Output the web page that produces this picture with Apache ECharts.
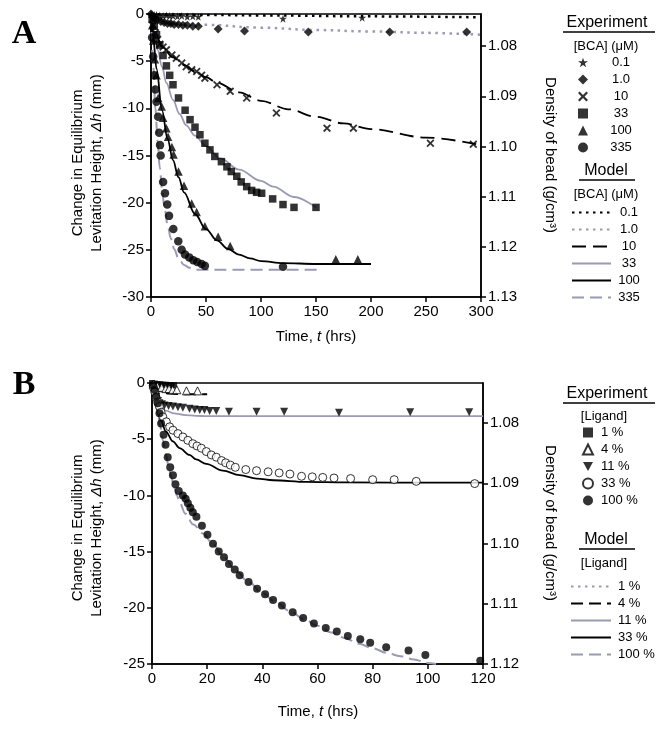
<!DOCTYPE html>
<html>
<head>
<meta charset="utf-8">
<script src="https://cdn.jsdelivr.net/npm/echarts@6/dist/echarts.min.js"></script>
<style>
  html, body { margin: 0; padding: 0; background: #fff; }
  #chart { width: 662px; height: 733px; }
</style>
</head>
<body>
<div id="chart"></div>
<script>
// ---- panel A : [BCA] (uM), time (hrs) vs change in height (mm)
const bcaLabels = ['0.1', '1.0', '10', '33', '100', '335'];
const bca01Exp = [[0,0],[1,-0.05],[3,-0.1],[5,-0.1],[8,-0.15],[11,-0.2],[14,-0.15],[17,-0.2],[20,-0.2],[24,-0.25],[28,-0.2],[33,-0.3],[38,-0.25],[43,-0.3],[120,-0.5],[192,-0.4]];
const bca1Exp = [[0,0],[2,-0.3],[4,-0.5],[6,-0.6],[9,-0.8],[12,-0.9],[15,-1.0],[18,-1.0],[21,-1.1],[25,-1.1],[29,-1.2],[33,-1.2],[38,-1.3],[43,-1.3],[61,-1.6],[85,-1.8],[143,-1.9],[217,-1.9],[287,-1.9]];
const bca10Exp = [[1,-0.6],[2,-1.2],[4,-2.0],[6,-2.7],[8,-3.2],[11,-3.5],[14,-3.8],[19,-4.35],[23,-4.7],[28,-5.2],[32,-5.6],[37,-5.9],[41.5,-6.1],[46,-6.5],[49,-6.8],[60,-7.5],[72,-8.2],[87,-8.9],[114,-10.5],[160,-12.1],[184,-12.1],[254,-13.7],[293,-13.8]];
const bca33Exp = [[1,-0.5],[3,-1.3],[5,-2.2],[8,-3.3],[11,-4.4],[14,-5.5],[17,-6.5],[20,-7.5],[25,-8.9],[31,-10.2],[35.5,-11.2],[40,-12.0],[44.5,-12.8],[49,-13.7],[53.6,-14.4],[58,-15.1],[64,-15.65],[69,-16.2],[73,-16.7],[78,-17.2],[82,-17.8],[87,-18.3],[91.5,-18.7],[96,-18.9],[100.6,-19.0],[110.6,-19.6],[120,-20.2],[130,-20.5],[150,-20.5]];
const bca100Exp = [[1,-1.2],[2,-2.8],[3.5,-4.8],[5,-6.5],[6.5,-8.9],[9.7,-9.8],[11,-11.0],[14,-12.1],[15.5,-13.0],[19,-14.1],[20.5,-14.9],[25,-16.7],[30,-18.2],[37,-20.1],[41.5,-21.0],[49,-22.5],[61,-23.6],[72,-24.6],[168,-26.0],[188,-26.0]];
const bca335Exp = [[1,-2.5],[2,-4.5],[3,-6.5],[4,-8.0],[5,-9.3],[6.5,-10.9],[7.4,-12.6],[8.2,-13.9],[8.8,-15.0],[11,-17.8],[12.7,-19.0],[14.8,-20.2],[16.4,-21.4],[20.3,-22.8],[24.8,-24.1],[27.9,-25.0],[30.9,-25.5],[34.8,-25.8],[38.5,-26.1],[42,-26.3],[46,-26.5],[49,-26.7],[120,-26.8]];

const bca01Fit = [[0,0],[50,-0.1],[100,-0.15],[200,-0.25],[300,-0.35]];
const bca1Fit = [[0,0],[5,-0.5],[10,-0.7],[25,-0.95],[50,-1.15],[100,-1.45],[150,-1.7],[200,-1.85],[250,-2.0],[300,-2.2]];
const bca10Fit = [[0,0],[2,-1.0],[5,-2.3],[10,-3.5],[20,-4.6],[30,-5.4],[40,-6.1],[50,-6.7],[60,-7.3],[80,-8.3],[100,-9.2],[125,-10.1],[150,-10.9],[175,-11.6],[200,-12.2],[250,-13.1],[300,-13.9]];
const bca33Fit = [[0,0],[3,-2.1],[6,-3.8],[10,-5.6],[14,-7.3],[20,-9.1],[26,-10.6],[32,-11.8],[40,-12.9],[50,-14.0],[63,-15.3],[80,-16.5],[100,-17.7],[111,-18.3],[130,-19.4],[150,-20.5]];
const bca100Fit = [[0,0],[2,-2.5],[5,-5.8],[10,-10.2],[15,-13.2],[20,-15.5],[25,-17.3],[30,-18.9],[40,-21.2],[50,-22.8],[60,-24.0],[70,-24.9],[80,-25.5],[90,-25.9],[100,-26.2],[120,-26.4],[150,-26.5],[200,-26.5]];
const bca335Fit = [[0,0],[2,-5.5],[4,-10],[6,-13.5],[8,-16.3],[10,-18.5],[12,-20.3],[15,-22.3],[18,-23.8],[21,-24.9],[25,-25.9],[30,-26.6],[35,-26.9],[40,-27.1],[155,-27.1]];

// ---- panel B : [Ligand] (%)
const ligLabels = ['1 %', '4 %', '11 %', '33 %', '100 %'];
const lig1Exp = [[0,0],[1,-0.05],[2,-0.1],[3,-0.1],[4,-0.15],[5,-0.15],[6,-0.2],[7,-0.2],[8,-0.2]];
const lig4Exp = [[0.5,-0.1],[2,-0.3],[3.5,-0.4],[5,-0.5],[6.2,-0.5],[7.5,-0.6],[9,-0.6],[12.5,-0.7],[16.5,-0.7]];
const lig11Exp = [[0.5,-0.3],[1,-0.8],[1.6,-1.2],[2.2,-1.6],[2.7,-1.8],[3.6,-1.9],[4.5,-2.0],[6,-2.05],[7.6,-2.1],[9.4,-2.15],[11.2,-2.2],[13.6,-2.3],[15.5,-2.35],[17.3,-2.4],[19,-2.4],[20.9,-2.5],[23.3,-2.5],[27.9,-2.56],[37.9,-2.56],[47.9,-2.56],[67.8,-2.65],[93.6,-2.6],[115,-2.6]];
const lig33Exp = [[0.5,-0.4],[1,-0.8],[1.5,-1.3],[2.1,-1.7],[2.7,-2.1],[3.3,-2.6],[3.9,-3.0],[5.2,-3.45],[6.4,-3.9],[7.6,-4.2],[9.4,-4.5],[11.2,-4.8],[13,-5.1],[14.8,-5.4],[16.3,-5.6],[17.9,-5.8],[19.7,-6.1],[21.5,-6.4],[23.3,-6.6],[25.2,-6.9],[26.7,-7.1],[28.4,-7.3],[30.2,-7.5],[34,-7.7],[37.9,-7.8],[42.1,-7.9],[46.1,-8.0],[50,-8.1],[54.2,-8.3],[58.1,-8.35],[61.9,-8.4],[66,-8.45],[72,-8.5],[80,-8.6],[87.8,-8.6],[95.8,-8.75],[117,-8.95]];
const lig100Exp = [[0.3,-0.2],[0.9,-0.6],[1.5,-1.2],[2.1,-1.8],[2.7,-2.7],[3.3,-3.6],[4.2,-4.6],[4.9,-5.5],[5.7,-6.6],[6.6,-7.5],[7.6,-8.2],[8.5,-9.0],[9.7,-9.6],[11.2,-10.0],[12.2,-10.3],[13,-10.7],[13.9,-11.1],[14.8,-11.5],[16.1,-11.9],[18.1,-12.7],[20.1,-13.5],[22.1,-14.3],[24.2,-15.0],[26.1,-15.5],[27.9,-16.1],[30,-16.6],[31.8,-17.1],[35,-17.7],[38.1,-18.3],[41,-18.8],[43.9,-19.3],[47.1,-19.8],[51,-20.4],[54.8,-20.9],[58.7,-21.4],[63,-21.8],[67,-22.1],[71,-22.5],[75.5,-22.8],[79.1,-23.1],[84.9,-23.5],[93,-23.8],[99.1,-24.2],[119,-24.7]];

const lig1Fit = [[0,0],[2,-0.1],[5,-0.15],[10,-0.2]];
const lig4Fit = [[0,0],[1,-0.3],[2,-0.55],[3,-0.75],[4,-0.85],[6,-0.95],[10,-1.0],[20,-1.0]];
const lig11Fit = [[0,0],[1,-1.0],[2,-1.7],[3,-2.1],[5,-2.45],[8,-2.7],[12,-2.85],[16,-2.92],[20,-2.95],[120,-2.95]];
const lig33Fit = [[0,0],[1,-1.3],[2,-2.3],[3.3,-3.4],[5,-4.3],[7.6,-5.2],[10,-5.8],[13.6,-6.4],[16,-6.8],[19.7,-7.2],[25.7,-7.8],[31.8,-8.2],[38,-8.5],[44,-8.65],[56,-8.8],[70,-8.85],[120,-8.87]];
const lig100Fit = [[0,0],[1,-1.3],[2,-2.6],[3,-3.9],[4,-5.1],[5,-6.3],[6,-7.4],[7,-8.4],[8,-9.3],[9,-10.0],[10,-10.6],[12,-11.6],[15,-12.6],[18.5,-13.4],[22,-14.3],[26,-15.5],[30,-16.6],[35,-17.7],[40,-18.7],[45,-19.5],[50,-20.3],[55,-21.0],[60,-21.6],[65,-22.2],[70,-22.7],[75,-23.2],[80,-23.6],[85,-24.0],[90,-24.3],[95,-24.6],[100,-24.9],[103,-25.0]];

// right axis: bead density and where it sits on the height axis
const densA = ['1.08', '1.09', '1.10', '1.11', '1.12', '1.13'];
const densAPos = [-3.4, -8.72, -14.04, -19.36, -24.68, -30];
const densB = ['1.08', '1.09', '1.10', '1.11', '1.12'];
const densBPos = [-3.56, -8.92, -14.28, -19.64, -25];

const FONT = 'Liberation Sans, Arial, sans-serif';
const GRAY = '#9a9ab4';
const STAR = 'path://M5,0L6.2,3.6L10,3.6L6.9,5.8L8.1,9.5L5,7.2L1.9,9.5L3.1,5.8L0,3.6L3.8,3.6Z';
const CROSS = 'path://M0,1.6L1.6,0L5,3.4L8.4,0L10,1.6L6.6,5L10,8.4L8.4,10L5,6.6L1.6,10L0,8.4L3.4,5Z';
const DOWNTRI = 'path://M0,0L10,0L5,9Z';

function sc(name, data, symbol, size, idx, extra) {
  return Object.assign({
    name: name, type: 'scatter', data: data, symbol: symbol, symbolSize: size,
    xAxisIndex: idx, yAxisIndex: idx * 2, z: 5, silent: true,
    itemStyle: { color: '#000' }
  }, extra || {});
}
function ln(name, data, color, type, width, idx) {
  return {
    name: name, type: 'line', data: data, symbol: 'none', showSymbol: false,
    smooth: 0.35, smoothMonotone: 'x', xAxisIndex: idx, yAxisIndex: idx * 2, z: 3, silent: true,
    lineStyle: { color: color, type: type, width: width }, itemStyle: { color: color }
  };
}

const series = [
  sc('eA|0.1', bca01Exp, STAR, 8, 0),
  sc('eA|1.0', bca1Exp, 'diamond', 9, 0),
  sc('eA|10', bca10Exp, CROSS, 8, 0),
  sc('eA|33', bca33Exp, 'rect', 7.5, 0),
  sc('eA|100', bca100Exp, 'triangle', 8.5, 0),
  sc('eA|335', bca335Exp, 'circle', 8.5, 0),
  ln('mA|0.1', bca01Fit, '#000', [2.5, 4.5], 2.5, 0),
  ln('mA|1.0', bca1Fit, GRAY, [2.5, 4.5], 2.5, 0),
  ln('mA|10', bca10Fit, '#000', [14, 7], 1.8, 0),
  ln('mA|33', bca33Fit, GRAY, 'solid', 1.8, 0),
  ln('mA|100', bca100Fit, '#000', 'solid', 1.8, 0),
  ln('mA|335', bca335Fit, GRAY, [12, 6], 2, 0),

  sc('eB|1 %', lig1Exp, 'rect', 6, 1),
  sc('eB|4 %', lig4Exp, 'triangle', 8, 1, { itemStyle: { color: '#fff', borderColor: '#000', borderWidth: 1 } }),
  sc('eB|11 %', lig11Exp, DOWNTRI, 8, 1),
  sc('eB|33 %', lig33Exp, 'circle', 8, 1, { itemStyle: { color: '#fff', borderColor: '#000', borderWidth: 1 } }),
  sc('eB|100 %', lig100Exp, 'circle', 8, 1),
  ln('mB|1 %', lig1Fit, GRAY, [2.5, 4.5], 2.5, 1),
  ln('mB|4 %', lig4Fit, '#000', [12, 6], 1.8, 1),
  ln('mB|11 %', lig11Fit, GRAY, 'solid', 1.8, 1),
  ln('mB|33 %', lig33Fit, '#000', 'solid', 1.8, 1),
  ln('mB|100 %', lig100Fit, GRAY, [12, 6], 2, 1)
];

function names(prefix, labels) { return labels.map(function (l) { return prefix + '|' + l; }); }
function legend(prefix, labels, left, top, iw, ih, gap, rich, hideSymbol) {
  const lg = {
    data: names(prefix, labels), orient: 'vertical', left: left, top: top,
    itemWidth: iw, itemHeight: ih, itemGap: gap, selectedMode: false, padding: 0,
    formatter: function (n) { return '{t|' + n.split('|')[1] + '}'; },
    textStyle: { fontFamily: FONT, fontSize: 13, color: '#000', rich: { t: rich } }
  };
  // line legends: only the stroke, no marker dot
  if (hideSymbol) lg.itemStyle = { opacity: 0 };
  return lg;
}

const axisCommon = {
  axisLine: { show: true, onZero: false, lineStyle: { color: '#000', width: 1.5 } },
  axisTick: { show: true, inside: false, length: 5, lineStyle: { color: '#000', width: 1.5 } },
  axisLabel: { color: '#000', fontFamily: FONT, fontSize: 15, margin: 7 },
  splitLine: { show: false }
};
function xAx(grid, max, interval) {
  return Object.assign({ type: 'value', gridIndex: grid, min: 0, max: max, interval: interval }, axisCommon);
}
function yAx(grid, min) {
  return Object.assign({ type: 'value', gridIndex: grid, min: min, max: 0, interval: 5 }, axisCommon);
}
function rAx(grid, min, pos, labels) {
  return {
    type: 'value', gridIndex: grid, position: 'right', min: min, max: 0,
    axisLine: { show: true, onZero: false, lineStyle: { color: '#000', width: 1.5 } },
    axisTick: { show: true, length: 5, customValues: pos, lineStyle: { color: '#000', width: 1.5 } },
    axisLabel: {
      color: '#000', fontFamily: FONT, fontSize: 15, margin: 7, customValues: pos,
      formatter: function (v) {
        let k = 0;
        pos.forEach(function (p, i) { if (Math.abs(p - v) < Math.abs(pos[k] - v)) k = i; });
        return labels[k];
      }
    },
    splitLine: { show: false }
  };
}

function txt(text, x, y, size, opts) {
  return {
    type: 'text', x: x, y: y, rotation: (opts && opts.rot) || 0, silent: true,
    style: Object.assign({
      text: text, fontFamily: FONT, fontSize: size, fill: '#000',
      align: 'center', verticalAlign: 'middle',
      rich: { i: { fontStyle: 'italic', fontFamily: FONT, fontSize: size } }
    }, (opts && opts.style) || {})
  };
}
function rule(x1, x2, y) {
  return { type: 'line', silent: true, shape: { x1: x1, y1: y, x2: x2, y2: y }, style: { stroke: '#000', lineWidth: 1.5 } };
}

const chart = echarts.init(document.getElementById('chart'), null, { renderer: 'canvas' });
chart.setOption({
  backgroundColor: '#fff',
  animation: false,
  grid: [
    { left: 151, top: 14, width: 330, height: 283, show: true, borderColor: '#000', borderWidth: 1.5 },
    { left: 152, top: 383, width: 331, height: 281, show: true, borderColor: '#000', borderWidth: 1.5 }
  ],
  xAxis: [xAx(0, 300, 50), xAx(1, 120, 20)],
  yAxis: [yAx(0, -30), rAx(0, -30, densAPos, densA), yAx(1, -25), rAx(1, -25, densBPos, densB)],
  legend: [
    legend('eA', bcaLabels, 578, 56, 10, 10, 4, { padding: [0, 0, 0, 11], width: 34, align: 'center', fontSize: 13, fontFamily: FONT, lineHeight: 13 }),
    legend('mA', bcaLabels, 571, 206, 39, 10, 4, { width: 26, align: 'center', fontSize: 13, fontFamily: FONT, lineHeight: 13 }, true),
    legend('eB', ligLabels, 582, 426, 10, 10, 4, { padding: [0, 0, 0, 3], fontSize: 13, fontFamily: FONT, lineHeight: 13 }),
    legend('mB', ligLabels, 570, 580, 40, 10, 4, { padding: [0, 0, 0, 2], fontSize: 13, fontFamily: FONT, lineHeight: 13 }, true)
  ],
  graphic: [
    txt('A', 24, 34, 34, { style: { fontFamily: 'Liberation Serif, serif', fontWeight: 'bold' } }),
    txt('B', 24, 385, 34, { style: { fontFamily: 'Liberation Serif, serif', fontWeight: 'bold' } }),
    txt('Change in Equilibrium', 78, 163, 15, { rot: Math.PI / 2 }),
    txt('Levitation Height, {i|Δh} (mm)', 97, 163, 15, { rot: Math.PI / 2 }),
    txt('Change in Equilibrium', 78, 528, 15, { rot: Math.PI / 2 }),
    txt('Levitation Height, {i|Δh} (mm)', 97, 528, 15, { rot: Math.PI / 2 }),
    txt('Density of bead (g/cm³)', 550, 155, 15, { rot: -Math.PI / 2 }),
    txt('Density of bead (g/cm³)', 550, 523, 15, { rot: -Math.PI / 2 }),
    txt('Time, {i|t} (hrs)', 316, 337, 15),
    txt('Time, {i|t} (hrs)', 318, 712, 15),
    txt('Experiment', 607, 23, 16),
    rule(563, 655, 32),
    txt('[BCA] (μM)', 606, 46, 13),
    txt('Model', 606, 171, 16),
    rule(579, 635, 180),
    txt('[BCA] (μM)', 606, 194, 13),
    txt('Experiment', 607, 394, 16),
    rule(563, 655, 403),
    txt('[Ligand]', 604, 416, 13),
    txt('Model', 606, 540, 16),
    rule(579, 635, 549),
    txt('[Ligand]', 604, 563, 13)
  ],
  series: series
});
</script>
</body>
</html>
